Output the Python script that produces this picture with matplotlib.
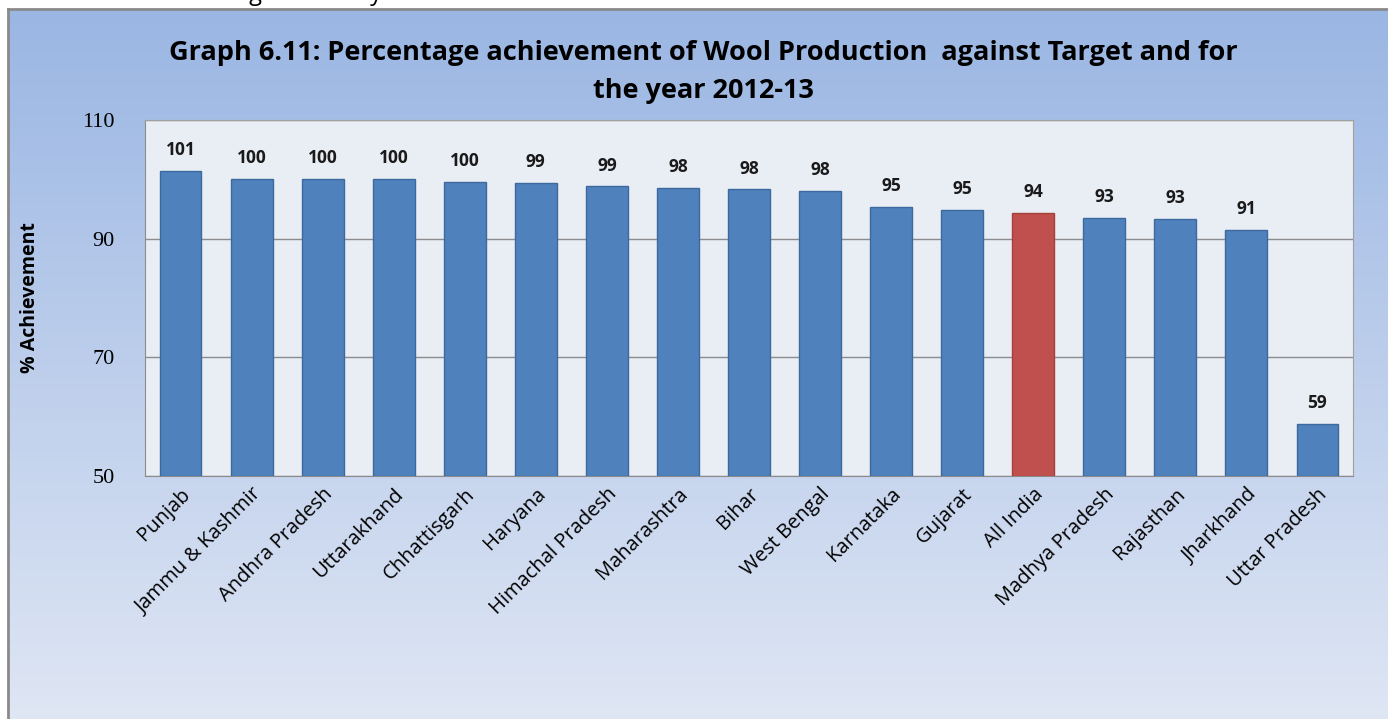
import numpy as np
import matplotlib
matplotlib.use("Agg")
import matplotlib.pyplot as plt

states = ["Punjab", "Jammu & Kashmir", "Andhra Pradesh", "Uttarakhand", "Chhattisgarh",
          "Haryana", "Himachal Pradesh", "Maharashtra", "Bihar", "West Bengal",
          "Karnataka", "Gujarat", "All India", "Madhya Pradesh", "Rajasthan",
          "Jharkhand", "Uttar Pradesh"]
achievement = [101.4, 100.0, 100.0, 100.0, 99.6, 99.4, 98.8, 98.5, 98.3, 98.0,
               95.3, 94.8, 94.4, 93.5, 93.3, 91.4, 58.8]
labels = [101, 100, 100, 100, 100, 99, 99, 98, 98, 98, 95, 95, 94, 93, 93, 91, 59]
yticks = [50, 70, 90, 110]

W, H = 1388, 719
fig = plt.figure(figsize=(W / 100, H / 100), dpi=100)
fig.patch.set_facecolor("white")

# cut-off text line above the chart box (only its lower edge shows)
fig.text(0.0, 1 - 0.5 / H, "achievement of the target for the year 2012-13",
         fontsize=17, family="Open Sans", va="baseline", ha="left", zorder=0)

# gradient panel behind the chart
bg = fig.add_axes([8 / W, 0, 1 - 8 / W, 1 - 9 / H], zorder=1)
top = np.array([0x9a, 0xb6, 0xe3]) / 255
bot = np.array([0xdf, 0xe6, 0xf4]) / 255
t = np.linspace(0, 1, 256)[:, None]
grad = (top * (1 - t) + bot * t)[:, None, :]
bg.imshow(grad, aspect="auto", extent=[0, 1, 0, 1])
bg.set_xticks([])
bg.set_yticks([])
for s in ["right", "bottom"]:
    bg.spines[s].set_visible(False)
for s in ["left", "top"]:
    bg.spines[s].set_color("#8a8a8a")
    bg.spines[s].set_linewidth(2)

ax = fig.add_axes([145 / W, 1 - 476 / H, (1353 - 145) / W, (476 - 120) / H], zorder=2)
ax.set_facecolor("#e9edf4")
x = np.arange(len(states))
colors = ["#c0504d" if s == "All India" else "#4f81bd" for s in states]
edges = ["#a5403d" if s == "All India" else "#3c6a9e" for s in states]
ax.bar(x, [v - 50 for v in achievement], bottom=50, width=0.59, color=colors,
       edgecolor=edges, linewidth=1, zorder=3)
for xi, v, lab in zip(x, achievement, labels):
    ax.text(xi, v + 2.0, str(lab), ha="center", va="bottom", fontsize=12.5,
            fontweight="bold", family="Open Sans", color="#1a1a1a")

ax.set_xlim(-0.5, len(states) - 0.5)
ax.set_ylim(50, 110)
ax.set_yticks(yticks)
ax.set_yticklabels([str(v) for v in yticks], family="Liberation Serif", fontsize=16)
ax.yaxis.grid(True, color="#8c8c8c", linewidth=1)
ax.set_axisbelow(True)
ax.tick_params(axis="y", length=0, pad=22)
ax.tick_params(axis="x", length=0, pad=6)
ax.set_xticks(x)
ax.set_xticklabels(states, rotation=45, ha="right", rotation_mode="anchor",
                   fontsize=14.5, family="Open Sans")
for s in ax.spines.values():
    s.set_color("#a0a0a0")
ax.spines["left"].set_color("#8c8c8c")
ax.spines["bottom"].set_color("#8c8c8c")

fig.text(30 / W, 1 - 298 / H, "% Achievement", rotation=90, ha="center", va="center",
         fontsize=14, fontweight="bold", family="Open Sans", zorder=5)
fig.text(703 / W, 1 - 72 / H,
         "Graph 6.11: Percentage achievement of Wool Production  against Target and for\nthe year 2012-13",
         ha="center", va="center", fontsize=19.5, fontweight="bold", family="Open Sans",
         linespacing=1.6, zorder=5)

fig.savefig("out.png", dpi=100)
